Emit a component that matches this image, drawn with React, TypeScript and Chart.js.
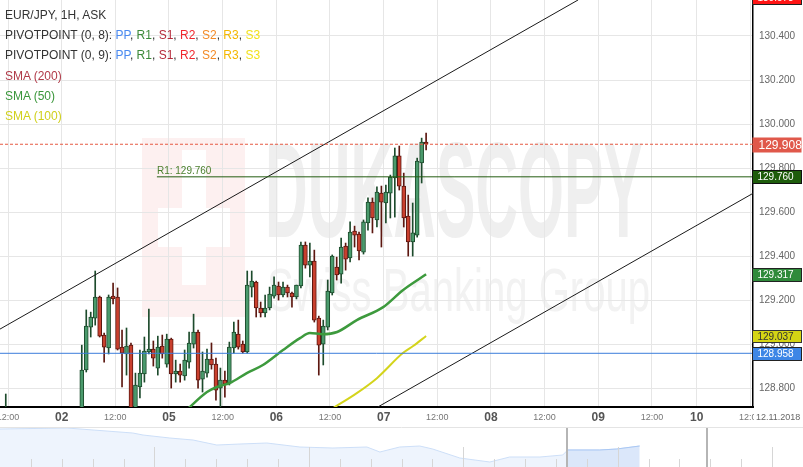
import React, { useEffect, useRef } from "react";
import { Chart, registerables } from "chart.js";

Chart.register(...registerables);

const FONT = "'Liberation Sans', Arial, Helvetica, sans-serif";

// ---- Candles (hour index in trading time from 01.11 00:00) ----
const hours = [11, 28, 29, 30, 31, 32, 33, 34, 35, 36, 37, 38, 39, 40, 41, 42, 43, 44, 45, 46, 47, 48, 49, 50, 51, 52, 53, 54, 55, 56, 57, 58, 59, 60, 61, 62, 63, 64, 65, 66, 67, 68, 69, 70, 71, 72, 73, 74, 75, 76, 77, 78, 79, 80, 81, 82, 83, 84, 85, 86, 87, 88, 89, 90, 91, 92, 93, 94, 95, 96, 97, 98, 99, 100, 101, 102, 103, 104, 105];
const opens = [128.650, 128.690, 128.882, 129.077, 129.118, 129.214, 129.041, 128.982, 129.218, 129.214, 128.986, 128.955, 128.995, 128.700, 128.805, 128.864, 128.964, 128.977, 128.891, 128.991, 128.909, 129.023, 128.864, 128.877, 128.855, 128.918, 129.000, 129.055, 128.841, 128.868, 128.932, 128.909, 128.800, 128.836, 128.823, 128.982, 129.045, 129.000, 128.964, 129.259, 129.282, 129.164, 129.141, 129.164, 129.218, 129.264, 129.223, 129.259, 129.232, 129.214, 129.264, 129.450, 129.359, 129.377, 129.118, 129.000, 129.077, 129.232, 129.350, 129.318, 129.445, 129.391, 129.514, 129.500, 129.418, 129.550, 129.645, 129.564, 129.686, 129.641, 129.686, 129.755, 129.855, 129.718, 129.582, 129.464, 129.495, 129.823, 129.918];
const highs = [128.773, 128.995, 129.155, 129.145, 129.332, 129.218, 129.050, 129.223, 129.277, 129.255, 129.064, 129.073, 129.005, 128.868, 128.973, 129.032, 129.159, 129.014, 129.036, 129.041, 129.045, 129.027, 128.927, 128.909, 128.973, 129.054, 129.136, 129.064, 128.964, 128.977, 129.005, 128.936, 128.891, 128.877, 129.009, 129.100, 129.109, 129.014, 129.332, 129.332, 129.286, 129.191, 129.223, 129.259, 129.305, 129.282, 129.282, 129.268, 129.236, 129.268, 129.464, 129.464, 129.459, 129.427, 129.127, 129.109, 129.291, 129.405, 129.395, 129.482, 129.459, 129.555, 129.536, 129.509, 129.564, 129.664, 129.664, 129.714, 129.718, 129.723, 129.768, 129.891, 129.900, 129.777, 129.677, 129.641, 129.845, 129.936, 129.959];
const lows = [128.620, 128.670, 128.873, 129.032, 129.086, 129.032, 128.918, 128.955, 129.182, 128.973, 128.805, 128.859, 128.680, 128.690, 128.755, 128.827, 128.955, 128.900, 128.859, 128.936, 128.895, 128.800, 128.827, 128.827, 128.836, 128.891, 128.982, 128.800, 128.782, 128.850, 128.886, 128.745, 128.700, 128.759, 128.814, 128.959, 128.977, 128.959, 128.959, 129.214, 129.123, 129.123, 129.123, 129.155, 129.209, 129.200, 129.214, 129.214, 129.168, 129.205, 129.255, 129.345, 129.305, 129.100, 128.859, 128.905, 129.064, 129.223, 129.291, 129.277, 129.336, 129.373, 129.441, 129.382, 129.409, 129.518, 129.505, 129.532, 129.441, 129.550, 129.573, 129.577, 129.700, 129.532, 129.400, 129.400, 129.486, 129.732, 129.882];
const closes = [128.690, 128.882, 129.082, 129.123, 129.214, 129.036, 128.986, 129.214, 129.205, 128.977, 128.959, 128.991, 128.700, 128.814, 128.868, 128.968, 128.977, 128.936, 128.986, 128.955, 129.023, 128.864, 128.877, 128.859, 128.927, 129.005, 129.055, 128.836, 128.877, 128.932, 128.905, 128.791, 128.836, 128.818, 128.986, 129.055, 128.986, 128.964, 129.268, 129.286, 129.164, 129.141, 129.164, 129.227, 129.268, 129.223, 129.259, 129.232, 129.214, 129.268, 129.450, 129.359, 129.377, 129.109, 128.995, 129.082, 129.241, 129.400, 129.314, 129.441, 129.386, 129.509, 129.495, 129.423, 129.555, 129.645, 129.573, 129.691, 129.645, 129.691, 129.759, 129.855, 129.718, 129.573, 129.464, 129.505, 129.832, 129.918, 129.908];

// ---- Moving averages ----
const sma50Hours = [51.8, 56.5, 58.7, 61.6, 65.4, 69.0, 73.5, 77.3, 79.5, 82.4, 85.6, 90.0, 95.9, 100.3, 105.5];
const sma50Values = [128.698, 128.782, 128.805, 128.823, 128.868, 128.905, 128.973, 129.027, 129.050, 129.045, 129.055, 129.109, 129.168, 129.245, 129.317];
const sma100Hours = [84.7, 90.0, 94.5, 100.3, 102.6, 105.5];
const sma100Values = [128.709, 128.777, 128.845, 128.959, 128.991, 129.037];

// ---- Trend channel ----
const channelUpperHours = [10.2, 139.5];
const channelUpperValues = [129.068, 130.564];
const channelLowerHours = [94.7, 178.6];
const channelLowerValues = [128.714, 129.685];

// ---- Levels ----
const currentPrice = 129.908;
const pivotR1 = 129.76;
const pivotPP = 128.958;
const sma50Last = 129.317;
const sma100Last = 129.037;
const upperOffLevel = 130.573;
const r1StartHour = 45.3;

// ---- Axes ----
const xMinHour = 10.21;
const xMaxHour = 178.6;
const yMin = 128.714;
const yMax = 130.5636;
const xTickHours = [12, 24, 36, 48, 60, 72, 84, 96, 108, 120, 132, 144, 156, 166, 178];
const xTickLabels = ["12:00", "02", "12:00", "05", "12:00", "06", "12:00", "07", "12:00", "08", "12:00", "09", "12:00", "10", "12:00"];
const yTickValues = [128.8, 129.0, 129.2, 129.4, 129.6, 129.8, 130.0, 130.2, 130.4];
const dateLabel = "12.11.2018";

// ---- Navigator (days) ----
const navDays = [0, 2.17, 4.3, 4.63, 5.5, 6.25, 7.02, 7.77, 8.64, 9.71, 10.78, 11.88, 12.3, 12.94, 13.59, 14.01, 14.89, 15.86, 16.5, 17.48, 18.22, 18.38, 19.42, 19.97, 20.71];
const navPrices = [130.8, 130.9, 130.4, 130.2, 129.9, 129.7, 129.2, 129.3, 129.4, 129.0, 128.9, 129.0, 128.5, 129.0, 129.1, 128.8, 127.9, 127.5, 128.0, 128.0, 128.2, 128.7, 128.7, 128.8, 129.1];
const navSelectedFrom = 18.35;
const navWindow = [18.35, 22.88];
const navMaxDay = 26;
const navMin = 127.0;
const navMax = 131.0;

const pivotNames = ["PP", "R1", "S1", "R2", "S2", "R3", "S3"];
const pivotColors = ["#4a8af0", "#3d8a3a", "#b52a3a", "#f0262d", "#f38a26", "#f4b700", "#f2e21a"];

const isDayLabel = (i: number) => xTickLabels[i] !== undefined && xTickLabels[i].indexOf(":") < 0;

export default function App() {
  const mainRef = useRef<HTMLCanvasElement | null>(null);
  const navRef = useRef<HTMLCanvasElement | null>(null);

  useEffect(() => {
    Chart.defaults.font.family = FONT;
    const up = hours.map((_, i) => closes[i] >= opens[i]);
    const candleX = hours.map((h) => h + 0.5);

    const tags = [
      { value: upperOffLevel, bg: "#ff1414", fg: "#ffffff", border: "#222", size: 10, h: 13 },
      { value: currentPrice, bg: "#e0584a", fg: "#ffffff", border: null, size: 12, h: 15 },
      { value: pivotR1, bg: "#1e5c0b", fg: "#ffffff", border: "#111", size: 10, h: 13 },
      { value: sma50Last, bg: "#2f8a3a", fg: "#ffffff", border: "#222", size: 10, h: 13 },
      { value: sma100Last, bg: "#d4d414", fg: "#333333", border: "#333", size: 10, h: 12 },
      { value: pivotPP, bg: "#3d86e6", fg: "#ffffff", border: "#222", size: 10, h: 13 },
    ];

    const overlay = {
      id: "overlay",
      beforeDraw(chart: any) {
        const { ctx, chartArea: a } = chart;
        ctx.save();
        ctx.beginPath();
        ctx.rect(a.left, a.top, a.right - a.left, a.bottom - a.top);
        ctx.clip();
        ctx.fillStyle = "#fdf0f0";
        ctx.fillRect(142, 138, 103, 179);
        ctx.fillStyle = "#ffffff";
        ctx.fillRect(182, 150, 24, 135);
        ctx.fillRect(158, 208, 72, 39);
        ctx.textAlign = "left";
        ctx.textBaseline = "alphabetic";
        ctx.fillStyle = "#efefef";
        ctx.font = `bold 136px ${FONT}`;
        ctx.fillText("DUKASCOPY", 265, 237, 378);
        ctx.fillStyle = "#f2f2f2";
        ctx.font = `62px ${FONT}`;
        ctx.fillText("Swiss Banking Group", 267, 311, 383);
        ctx.restore();
      },
      afterDraw(chart: any) {
        const { ctx, chartArea: a, scales } = chart;
        const xs = scales.x;
        const ys = scales.y;
        ctx.save();
        ctx.font = `10px ${FONT}`;
        ctx.fillStyle = "#4b7f2d";
        ctx.textAlign = "left";
        ctx.textBaseline = "alphabetic";
        ctx.fillText(`R1: ${pivotR1.toFixed(3)}`, xs.getPixelForValue(r1StartHour), ys.getPixelForValue(pivotR1) - 3);

        for (const t of tags) {
          const cy = ys.getPixelForValue(t.value);
          const x0 = a.right - 0.5;
          const w = 49;
          const y0 = Math.round(cy - t.h / 2) + 0.5;
          ctx.fillStyle = t.bg;
          ctx.fillRect(x0, y0, w, t.h);
          if (t.border) {
            ctx.strokeStyle = t.border;
            ctx.lineWidth = 1;
            ctx.strokeRect(x0, y0, w, t.h);
          }
          ctx.fillStyle = t.fg;
          ctx.font = `${t.size}px ${FONT}`;
          ctx.textBaseline = "middle";
          ctx.fillText(t.value.toFixed(3), x0 + (t.size > 10 ? 6 : 5), y0 + t.h / 2 + 0.5);
        }

        ctx.fillStyle = "#ffffff";
        ctx.fillRect(a.right + 1, a.bottom + 2, 60, 18);
        ctx.fillStyle = "#666";
        ctx.font = `9px ${FONT}`;
        ctx.textBaseline = "middle";
        ctx.fillText(dateLabel, a.right + 3, a.bottom + 11);
        ctx.restore();
      },
    };

    const hLine = (from: number, to: number, v: number) => [
      { x: from, y: v },
      { x: to, y: v },
    ];

    const main = new Chart(mainRef.current as HTMLCanvasElement, {
      type: "bar",
      data: {
        datasets: [
          {
            type: "bar",
            label: "wicks",
            data: candleX.map((x, i) => ({ x, y: [lows[i], highs[i]] })) as any,
            backgroundColor: up.map((u) => (u ? "#1d4b2c" : "#5c1710")),
            borderWidth: 0,
            barThickness: 1,
            grouped: false,
            order: 10,
          } as any,
          {
            type: "bar",
            label: "bodies",
            data: candleX.map((x, i) => ({ x, y: [opens[i], closes[i]] })) as any,
            backgroundColor: up.map((u) => (u ? "#4a9a6c" : "#c9402e")),
            borderColor: up.map((u) => (u ? "#1d4b2c" : "#5c1710")),
            borderWidth: 1,
            borderSkipped: false,
            barThickness: 4,
            grouped: false,
            order: 9,
          } as any,
          {
            type: "line",
            label: "SMA (100)",
            data: sma100Hours.map((h, i) => ({ x: h, y: sma100Values[i] })),
            borderColor: "#d4d41c",
            borderWidth: 2,
            pointRadius: 0,
            cubicInterpolationMode: "monotone",
            order: 5,
          } as any,
          {
            type: "line",
            label: "SMA (50)",
            data: sma50Hours.map((h, i) => ({ x: h, y: sma50Values[i] })),
            borderColor: "#3d9a3d",
            borderWidth: 2.5,
            pointRadius: 0,
            cubicInterpolationMode: "monotone",
            order: 4,
          } as any,
          {
            type: "line",
            label: "channel upper",
            data: channelUpperHours.map((h, i) => ({ x: h, y: channelUpperValues[i] })),
            borderColor: "#1a1a1a",
            borderWidth: 1,
            pointRadius: 0,
            order: 3,
          } as any,
          {
            type: "line",
            label: "channel lower",
            data: channelLowerHours.map((h, i) => ({ x: h, y: channelLowerValues[i] })),
            borderColor: "#1a1a1a",
            borderWidth: 1,
            pointRadius: 0,
            order: 3,
          } as any,
          {
            type: "line",
            label: "PP",
            data: hLine(xMinHour, xMaxHour, pivotPP),
            borderColor: "#3b7ddb",
            borderWidth: 1,
            pointRadius: 0,
            order: 2,
          } as any,
          {
            type: "line",
            label: "R1",
            data: hLine(r1StartHour, xMaxHour, pivotR1),
            borderColor: "#235c10",
            borderWidth: 1,
            pointRadius: 0,
            order: 2,
          } as any,
          {
            type: "line",
            label: "price",
            data: hLine(xMinHour, xMaxHour, currentPrice),
            borderColor: "#e65a43",
            borderWidth: 1,
            borderDash: [3, 2],
            pointRadius: 0,
            order: 1,
          } as any,
        ],
      },
      options: {
        responsive: false,
        animation: false,
        events: [],
        layout: { padding: 0 },
        plugins: { legend: { display: false }, tooltip: { enabled: false } },
        scales: {
          x: {
            type: "linear",
            position: "bottom",
            min: xMinHour,
            max: xMaxHour,
            offset: false,
            grid: { color: "#e6e6e6", drawTicks: false, offset: false },
            border: { display: true, color: "#000", width: 2 },
            afterBuildTicks: (s: any) => {
              s.ticks = xTickHours.map((v) => ({ value: v }));
            },
            afterFit: (s: any) => {
              s.height = 20;
              s.paddingLeft = 0;
              s.paddingRight = 0;
            },
            ticks: {
              autoSkip: false,
              maxRotation: 0,
              minRotation: 0,
              padding: 4,
              color: (c: any) => (isDayLabel(c.index) ? "#555" : "#777"),
              font: (c: any) =>
                isDayLabel(c.index)
                  ? { family: FONT, size: 12, weight: "bold", lineHeight: "14px" }
                  : { family: FONT, size: 9, lineHeight: "14px" },
              callback: (_v: any, i: number) => xTickLabels[i],
            },
          } as any,
          y: {
            type: "linear",
            position: "right",
            min: yMin,
            max: yMax,
            grid: { color: "#e6e6e6", drawTicks: false },
            border: { display: true, color: "#000", width: 1.5 },
            afterBuildTicks: (s: any) => {
              s.ticks = yTickValues.map((v) => ({ value: v }));
            },
            afterFit: (s: any) => {
              s.width = 50;
              s.paddingTop = 0;
              s.paddingBottom = 0;
            },
            ticks: {
              padding: 6,
              color: "#666",
              font: { family: FONT, size: 10 },
              callback: (v: any) => Number(v).toFixed(3),
            },
          } as any,
        },
      },
      plugins: [overlay],
    });

    const navPlugin = {
      id: "navDecor",
      afterDatasetsDraw(chart: any) {
        const { ctx, chartArea: a, scales } = chart;
        const xs = scales.x;
        ctx.save();
        ctx.strokeStyle = "#d6d6d6";
        ctx.lineWidth = 1;
        for (let d = 1; d < navMaxDay; d++) {
          const px = Math.round(xs.getPixelForValue(d)) + 0.5;
          const top = d % 5 === 0 ? a.bottom - 20 : a.bottom - 8;
          ctx.beginPath();
          ctx.moveTo(px, top);
          ctx.lineTo(px, a.bottom);
          ctx.stroke();
        }
        ctx.strokeStyle = "#b5b5b5";
        ctx.lineWidth = 2;
        for (const d of navWindow) {
          const px = Math.round(xs.getPixelForValue(d));
          ctx.beginPath();
          ctx.moveTo(px, a.top);
          ctx.lineTo(px, a.bottom);
          ctx.stroke();
        }
        ctx.strokeStyle = "#e4e4e4";
        ctx.lineWidth = 1;
        ctx.beginPath();
        ctx.moveTo(a.left, 0.5);
        ctx.lineTo(a.right, 0.5);
        ctx.stroke();
        ctx.restore();
      },
    };

    const navAll = navDays.map((d, i) => ({ x: d, y: navPrices[i] }));
    const navSel = navAll.filter((p) => p.x >= navSelectedFrom);

    const nav = new Chart(navRef.current as HTMLCanvasElement, {
      type: "line",
      data: {
        datasets: [
          {
            data: navSel,
            fill: "start",
            backgroundColor: "#dbe7fa",
            borderColor: "#a9c7f3",
            borderWidth: 1,
            pointRadius: 0,
            order: 1,
          },
          {
            data: navAll,
            fill: "start",
            backgroundColor: "#eef4fd",
            borderColor: "#cddff8",
            borderWidth: 1,
            pointRadius: 0,
            order: 2,
          },
        ],
      },
      options: {
        responsive: false,
        animation: false,
        events: [],
        layout: { padding: 0 },
        plugins: { legend: { display: false }, tooltip: { enabled: false } },
        scales: {
          x: { type: "linear", display: false, min: 0, max: navMaxDay },
          y: { type: "linear", display: false, min: navMin, max: navMax },
        },
      },
      plugins: [navPlugin],
    });

    return () => {
      main.destroy();
      nav.destroy();
    };
  }, []);

  const sep = { color: "#333" };
  const pivotLine = (label: string) => (
    <div>
      {label}
      {pivotNames.map((n, i) => (
        <span key={n}>
          <span style={{ color: pivotColors[i] }}>{n}</span>
          {i < pivotNames.length - 1 ? <span style={sep}>, </span> : null}
        </span>
      ))}
    </div>
  );

  return (
    <div style={{ position: "relative", width: 803, height: 467, background: "#fff", overflow: "hidden" }}>
      <style>{"html,body{margin:0;padding:0;background:#fff;}"}</style>
      <canvas ref={mainRef} width={803} height={427} style={{ position: "absolute", left: 0, top: 0, display: "block" }} />
      <canvas ref={navRef} width={803} height={40} style={{ position: "absolute", left: 0, top: 427, display: "block" }} />
      <div
        style={{
          position: "absolute",
          left: 5,
          top: 5,
          fontFamily: FONT,
          fontSize: 12,
          lineHeight: "20.2px",
          color: "#333",
          whiteSpace: "nowrap",
          pointerEvents: "none",
        }}
      >
        <div>EUR/JPY, 1H, ASK</div>
        {pivotLine("PIVOTPOINT (0, 8): ")}
        {pivotLine("PIVOTPOINT (0, 9): ")}
        <div style={{ color: "#b03a48" }}>SMA (200)</div>
        <div style={{ color: "#3a963a" }}>SMA (50)</div>
        <div style={{ color: "#d0d01c" }}>SMA (100)</div>
      </div>
    </div>
  );
}
